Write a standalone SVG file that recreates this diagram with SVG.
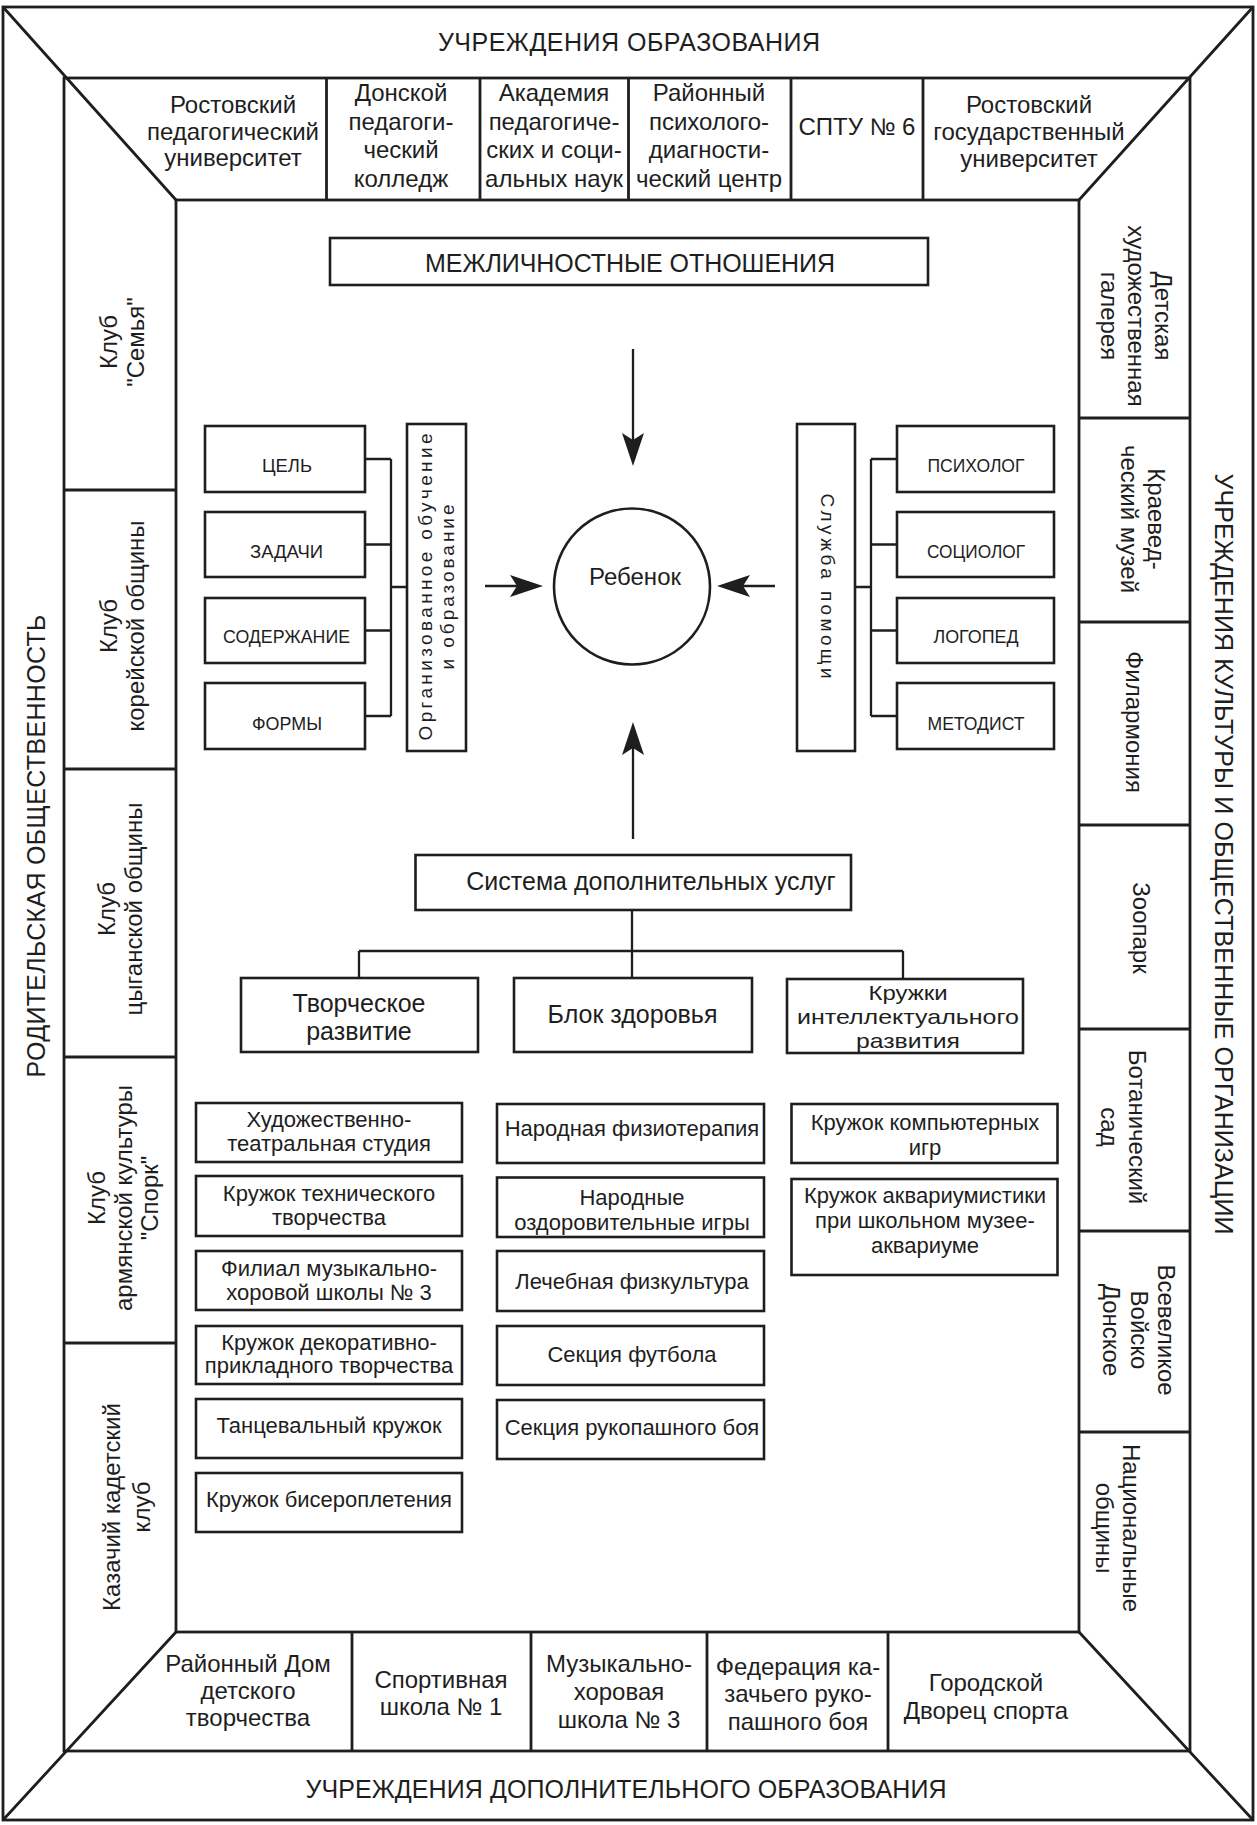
<svg xmlns="http://www.w3.org/2000/svg" width="1257" height="1825" viewBox="0 0 1257 1825">
<defs>
<style>
.fr{fill:none;stroke:#1e1e1e;stroke-width:2.8}
.bx{fill:#fff;stroke:#1e1e1e;stroke-width:2.6}
.cn{fill:none;stroke:#1e1e1e;stroke-width:2.3}
text{font-family:"Liberation Sans",Arial,Helvetica,sans-serif;fill:#1e1e1e;text-anchor:middle}
.f25{font-size:25px}
.f24{font-size:24px}
.f22{font-size:22px}
.f21{font-size:21px}
.f19{font-size:19px}
</style>
<marker id="ah" markerUnits="userSpaceOnUse" markerWidth="34" markerHeight="22" refX="25" refY="11" orient="auto" overflow="visible">
<path d="M0,0 L33,11 L0,22 L7,11 Z" fill="#1e1e1e"/>
</marker>
</defs>
<rect width="1257" height="1825" fill="#fff"/>

<g id="frame">
<rect class="fr" x="3" y="7" width="1250" height="1813"/>
<rect class="fr" x="64" y="78" width="1126" height="1673"/>
<rect class="fr" x="176" y="200" width="903" height="1432"/>
<path class="fr" d="M3,7 L176,200 M1253,7 L1079,200 M3,1820 L176,1632 M1253,1820 L1079,1632"/>
<path class="fr" d="M326.5,78 V200 M480,78 V200 M628.5,78 V200 M791,78 V200 M923,78 V200"/>
<path class="fr" d="M352,1632 V1751 M531,1632 V1751 M707,1632 V1751 M888,1632 V1751"/>
<path class="fr" d="M64,490 H176 M64,769 H176 M64,1057 H176 M64,1343 H176"/>
<path class="fr" d="M1079,418 H1190 M1079,622 H1190 M1079,825 H1190 M1079,1029 H1190 M1079,1231 H1190 M1079,1432 H1190"/>
</g>

<g id="band-top"><text class="f25" x="629" y="51" textLength="382">УЧРЕЖДЕНИЯ ОБРАЗОВАНИЯ</text></g>
<g id="band-bottom"><text class="f25" x="626" y="1798" textLength="641">УЧРЕЖДЕНИЯ ДОПОЛНИТЕЛЬНОГО ОБРАЗОВАНИЯ</text></g>
<g id="band-left"><text class="f25" transform="translate(36,846) rotate(-90)" x="0" y="9" textLength="463">РОДИТЕЛЬСКАЯ ОБЩЕСТВЕННОСТЬ</text></g>
<g id="band-right"><text class="f25" transform="translate(1224,854) rotate(90)" x="0" y="9" textLength="761">УЧРЕЖДЕНИЯ КУЛЬТУРЫ И ОБЩЕСТВЕННЫЕ ОРГАНИЗАЦИИ</text></g>

<g id="top-cells" class="f24">
<g id="c-rpu"><text><tspan x="233" y="113">Ростовский</tspan><tspan x="233" y="139.5">педагогический</tspan><tspan x="233" y="166">университет</tspan></text></g>
<g id="c-dpk"><text><tspan x="401" y="101">Донской</tspan><tspan x="401" y="129.5">педагоги-</tspan><tspan x="401" y="158">ческий</tspan><tspan x="401" y="186.5">колледж</tspan></text></g>
<g id="c-akad"><text><tspan x="554" y="101">Академия</tspan><tspan x="554" y="129.5">педагогиче-</tspan><tspan x="554" y="158">ских и соци-</tspan><tspan x="554" y="186.5">альных наук</tspan></text></g>
<g id="c-rpdc"><text><tspan x="709" y="101">Районный</tspan><tspan x="709" y="129.5">психолого-</tspan><tspan x="709" y="158">диагности-</tspan><tspan x="709" y="186.5">ческий центр</tspan></text></g>
<g id="c-sptu"><text x="857" y="135">СПТУ № 6</text></g>
<g id="c-rgu"><text><tspan x="1029" y="113">Ростовский</tspan><tspan x="1029" y="140">государственный</tspan><tspan x="1029" y="167">университет</tspan></text></g>
</g>

<g id="bottom-cells" class="f24">
<g id="c-rddt"><text><tspan x="248" y="1672">Районный Дом</tspan><tspan x="248" y="1699">детского</tspan><tspan x="248" y="1726">творчества</tspan></text></g>
<g id="c-sport1"><text><tspan x="441" y="1688">Спортивная</tspan><tspan x="441" y="1715">школа № 1</tspan></text></g>
<g id="c-mhs3"><text><tspan x="619" y="1672">Музыкально-</tspan><tspan x="619" y="1700">хоровая</tspan><tspan x="619" y="1728">школа № 3</tspan></text></g>
<g id="c-fed"><text><tspan x="798" y="1675">Федерация ка-</tspan><tspan x="798" y="1702">зачьего руко-</tspan><tspan x="798" y="1730">пашного боя</tspan></text></g>
<g id="c-gds"><text><tspan x="986" y="1691">Городской</tspan><tspan x="986" y="1719">Дворец спорта</tspan></text></g>
</g>

<g id="left-cells" class="f24">
<g id="c-semya"><text transform="translate(123.5,342) rotate(-90)"><tspan x="0" y="-6.3">Клуб</tspan><tspan x="0" y="20.7">"Семья"</tspan></text></g>
<g id="c-korea"><text transform="translate(123,626) rotate(-90)"><tspan x="0" y="-6.3">Клуб</tspan><tspan x="0" y="20.7">корейской общины</tspan></text></g>
<g id="c-cygan"><text transform="translate(121.5,909) rotate(-90)"><tspan x="0" y="-6.3">Клуб</tspan><tspan x="0" y="20.7">цыганской общины</tspan></text></g>
<g id="c-armen"><text transform="translate(124.5,1198) rotate(-90)"><tspan x="0" y="-19.3">Клуб</tspan><tspan x="0" y="7.2">армянской культуры</tspan><tspan x="0" y="33.7">"Спорк"</tspan></text></g>
<g id="c-kazak"><text transform="translate(128,1507) rotate(-90)"><tspan x="0" y="-7.8">Казачий кадетский</tspan><tspan x="0" y="22.2">клуб</tspan></text></g>
</g>

<g id="right-cells" class="f24">
<g id="c-gal"><text transform="translate(1135,316) rotate(90)"><tspan x="0" y="-19.8">Детская</tspan><tspan x="0" y="7.2">художественная</tspan><tspan x="0" y="34.2">галерея</tspan></text></g>
<g id="c-muz"><text transform="translate(1141.5,519) rotate(90)"><tspan x="0" y="-6.3">Краевед-</tspan><tspan x="0" y="20.7">ческий музей</tspan></text></g>
<g id="c-fil"><text transform="translate(1133,722) rotate(90)" x="0" y="7.2">Филармония</text></g>
<g id="c-zoo"><text transform="translate(1140,928) rotate(90)" x="0" y="7.2">Зоопарк</text></g>
<g id="c-bot"><text transform="translate(1122,1127) rotate(90)"><tspan x="0" y="-6.8">Ботанический</tspan><tspan x="0" y="21.2">сад</tspan></text></g>
<g id="c-voisko"><text transform="translate(1138,1330) rotate(90)"><tspan x="0" y="-20.3">Всевеликое</tspan><tspan x="0" y="7.2">Войско</tspan><tspan x="0" y="34.7">Донское</tspan></text></g>
<g id="c-nac"><text transform="translate(1117,1528) rotate(90)"><tspan x="0" y="-6.3">Национальные</tspan><tspan x="0" y="20.7">общины</tspan></text></g>
</g>

<g id="connectors" class="cn">
<path d="M365,459 H391 M365,544.5 H391 M365,630.5 H391 M365,716 H391 M391,459 V716 M391,587 H407"/>
<path d="M897,459 H871 M897,544.5 H871 M897,630.5 H871 M897,716 H871 M871,459 V716 M855,587 H871"/>
<path d="M633,349 V458" marker-end="url(#ah)"/>
<path d="M485,586 H535" marker-end="url(#ah)"/>
<path d="M775,586 H725" marker-end="url(#ah)"/>
<path d="M633,839 V730" marker-end="url(#ah)"/>
<path d="M632,910 V978 M359,951 H903 M359,951 V978 M903,951 V979"/>
</g>

<g id="n-mezh"><rect class="bx" x="330" y="238" width="598" height="47"/><text class="f25" x="630" y="272" textLength="410">МЕЖЛИЧНОСТНЫЕ ОТНОШЕНИЯ</text></g>
<g id="n-child"><circle class="bx" cx="632" cy="586.5" r="78"/><text class="f24" x="635" y="585">Ребенок</text></g>

<g id="n-org"><rect class="bx" x="407" y="424" width="59" height="327"/><text class="f19" transform="translate(436.5,587) rotate(-90)"><tspan x="0" y="-4.8" textLength="307">Организованное обучение</tspan><tspan x="0" y="17" textLength="165">и образование</tspan></text></g>
<g id="n-cel"><rect class="bx" x="205" y="426" width="160" height="66"/><text class="f19" x="287" y="472" textLength="50" lengthAdjust="spacingAndGlyphs">ЦЕЛЬ</text></g>
<g id="n-zad"><rect class="bx" x="205" y="512" width="160" height="65"/><text class="f19" x="286.5" y="558" textLength="73" lengthAdjust="spacingAndGlyphs">ЗАДАЧИ</text></g>
<g id="n-sod"><rect class="bx" x="205" y="598" width="160" height="65"/><text class="f19" x="286.5" y="643" textLength="127" lengthAdjust="spacingAndGlyphs">СОДЕРЖАНИЕ</text></g>
<g id="n-form"><rect class="bx" x="205" y="683" width="160" height="66"/><text class="f19" x="287" y="730" textLength="70" lengthAdjust="spacingAndGlyphs">ФОРМЫ</text></g>

<g id="n-sluzh"><rect class="bx" x="797" y="424" width="58" height="327"/><text class="f19" transform="translate(828,586) rotate(90)" x="0" y="6.7" textLength="185">Служба помощи</text></g>
<g id="n-psi"><rect class="bx" x="897" y="426" width="157" height="66"/><text class="f19" x="976" y="472" textLength="97" lengthAdjust="spacingAndGlyphs">ПСИХОЛОГ</text></g>
<g id="n-soc"><rect class="bx" x="897" y="512" width="157" height="65"/><text class="f19" x="976" y="558" textLength="98" lengthAdjust="spacingAndGlyphs">СОЦИОЛОГ</text></g>
<g id="n-log"><rect class="bx" x="897" y="598" width="157" height="65"/><text class="f19" x="976" y="643" textLength="85" lengthAdjust="spacingAndGlyphs">ЛОГОПЕД</text></g>
<g id="n-met"><rect class="bx" x="897" y="683" width="157" height="66"/><text class="f19" x="976" y="730" textLength="97" lengthAdjust="spacingAndGlyphs">МЕТОДИСТ</text></g>

<g id="n-sys"><rect class="bx" x="415.5" y="855" width="435.5" height="55"/><text class="f25" x="651" y="890">Система дополнительных услуг</text></g>
<g id="n-tvor"><rect class="bx" x="241" y="978" width="237" height="74"/><text class="f25"><tspan x="359" y="1012">Творческое</tspan><tspan x="359" y="1040">развитие</tspan></text></g>
<g id="n-blok"><rect class="bx" x="514" y="978" width="238" height="74"/><text class="f25" x="632.5" y="1023">Блок здоровья</text></g>
<g id="n-intel"><rect class="bx" x="787" y="979" width="236" height="74"/><text class="f21"><tspan x="908" y="999.5" textLength="79" lengthAdjust="spacingAndGlyphs">Кружки</tspan><tspan x="908" y="1023.5" textLength="222" lengthAdjust="spacingAndGlyphs">интеллектуального</tspan><tspan x="908" y="1047.5" textLength="104" lengthAdjust="spacingAndGlyphs">развития</tspan></text></g>

<g id="col-left" class="f22">
<g id="n-hud"><rect class="bx" x="196" y="1103" width="266" height="59"/><text><tspan x="329" y="1127">Художественно-</tspan><tspan x="329" y="1151">театральная студия</tspan></text></g>
<g id="n-teh"><rect class="bx" x="196" y="1176" width="266" height="60"/><text><tspan x="329" y="1201">Кружок технического</tspan><tspan x="329" y="1225">творчества</tspan></text></g>
<g id="n-fil3"><rect class="bx" x="196" y="1251" width="266" height="59"/><text><tspan x="329" y="1276">Филиал музыкально-</tspan><tspan x="329" y="1300">хоровой школы № 3</tspan></text></g>
<g id="n-dek"><rect class="bx" x="196" y="1326" width="266" height="58"/><text><tspan x="329" y="1350">Кружок декоративно-</tspan><tspan x="329" y="1373">прикладного творчества</tspan></text></g>
<g id="n-tanc"><rect class="bx" x="196" y="1399" width="266" height="59"/><text x="329" y="1433">Танцевальный кружок</text></g>
<g id="n-bis"><rect class="bx" x="196" y="1473" width="266" height="59"/><text x="329" y="1507">Кружок бисероплетения</text></g>
</g>

<g id="col-mid" class="f22">
<g id="n-fizio"><rect class="bx" x="497" y="1104" width="267" height="59"/><text x="632" y="1136">Народная физиотерапия</text></g>
<g id="n-igry"><rect class="bx" x="497" y="1177.5" width="267" height="59.5"/><text><tspan x="632" y="1205">Народные</tspan><tspan x="632" y="1230">оздоровительные игры</tspan></text></g>
<g id="n-lfk"><rect class="bx" x="497" y="1251" width="267" height="60"/><text x="632" y="1289">Лечебная физкультура</text></g>
<g id="n-foot"><rect class="bx" x="497" y="1326" width="267" height="59"/><text x="632" y="1362">Секция футбола</text></g>
<g id="n-ruko"><rect class="bx" x="497" y="1400" width="267" height="59"/><text x="632" y="1435">Секция рукопашного боя</text></g>
</g>

<g id="col-right" class="f22">
<g id="n-comp"><rect class="bx" x="791.5" y="1104" width="266" height="59"/><text><tspan x="925" y="1130">Кружок компьютерных</tspan><tspan x="925" y="1155">игр</tspan></text></g>
<g id="n-akva"><rect class="bx" x="791.5" y="1179" width="266" height="96"/><text><tspan x="925" y="1203">Кружок аквариумистики</tspan><tspan x="925" y="1228">при школьном музее-</tspan><tspan x="925" y="1253">аквариуме</tspan></text></g>
</g>
</svg>
